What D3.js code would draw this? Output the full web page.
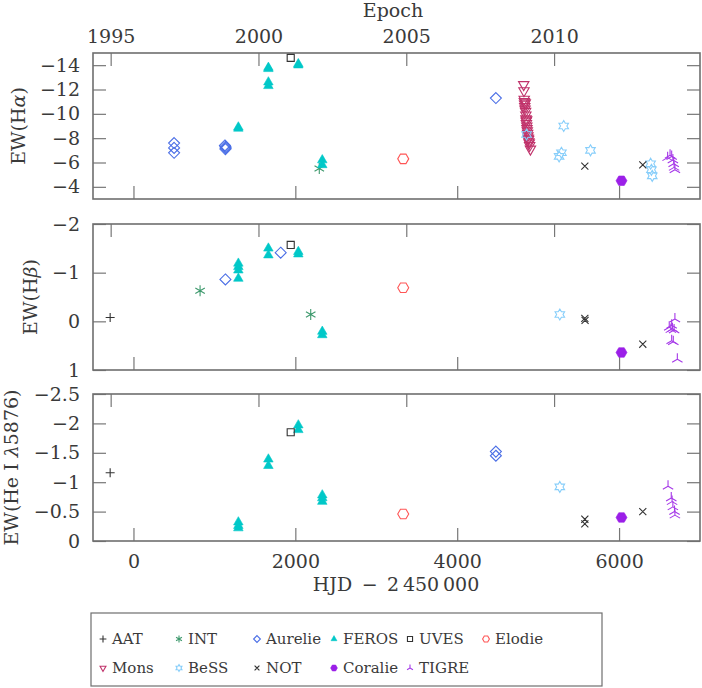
<!DOCTYPE html>
<html>
<head>
<meta charset="utf-8">
<script src="https://cdn.jsdelivr.net/npm/d3@7"></script>
<style>
  body { margin: 0; background: #fff; }
  text { font-family: "DejaVu Serif", serif; fill: #3a3a3a; }
</style>
</head>
<body>
<script>
'use strict';

// instruments, legend order
var instruments = ["AAT", "INT", "Aurelie", "FEROS", "UVES", "Elodie", "Mons", "BeSS", "NOT", "Coralie", "TIGRE"];
var colors = ["#333333", "#3f9a6e", "#4a6ee6", "#00c8c8", "#333333", "#ff5555", "#c0326a", "#87cefa", "#333333", "#9b1fe8", "#a63ae8"];
var shapes = ["plus", "aster", "diamond", "triUp", "square", "hex", "triDown", "hexagram", "cross", "hex", "tripod"];
var filled = [false, false, false, true, false, false, false, false, false, true, false];

// [HJD - 2450000, EW]  --- H alpha
var haINT = [[2296, -5.5]];
var haAurelie = [[502, -7.6], [502, -7.2], [502, -6.8], [1130, -7.4], [1136, -7.3], [1140, -7.2], [1136, -7.1], [4478, -11.3]];
var haFEROS = [[1296, -8.9], [1296, -8.8], [1667, -13.8], [1667, -13.7], [1667, -12.6], [1667, -12.3], [2037, -14.1], [2037, -14.0], [2333, -6.2], [2333, -5.8]];
var haUVES = [[1943, -14.6]];
var haElodie = [[3333, -6.3]];
var haMons = [[4822, -12.4], [4825, -11.9], [4828, -11.2], [4830, -11.0], [4833, -10.8], [4835, -10.6], [4838, -10.4], [4841, -10.9],
              [4845, -10.2], [4848, -9.9], [4850, -9.6], [4852, -9.4], [4855, -9.2], [4858, -9.5], [4860, -9.0], [4862, -8.8],
              [4866, -8.6], [4870, -8.4], [4874, -8.2], [4878, -8.0], [4882, -7.9], [4886, -7.7], [4890, -7.6], [4895, -7.4], [4905, -7.1]];
var haBeSS = [[4857, -8.3], [5259, -6.5], [5288, -6.8], [5316, -9.0], [5647, -7.0], [6390, -5.9], [6400, -5.4], [6410, -4.9]];
var haNOT = [[5577, -5.7], [6293, -5.8]];
var haCoralie = [[6030, -4.5]];
var haTIGRE = [[6600, -6.4], [6630, -6.6], [6650, -6.5], [6665, -6.2], [6675, -5.9], [6680, -5.6], [6690, -5.4]];

// H beta
var hbAAT = [[-288, -0.08]];
var hbINT = [[823, -0.63], [2190, -0.14]];
var hbAurelie = [[1136, -0.86], [1819, -1.41]];
var hbFEROS = [[1296, -1.19], [1296, -1.12], [1296, -1.05], [1296, -0.88], [1667, -1.5], [1667, -1.36], [2037, -1.43], [2037, -1.38], [2333, 0.21], [2333, 0.28]];
var hbUVES = [[1943, -1.57]];
var hbElodie = [[3333, -0.69]];
var hbBeSS = [[5268, -0.14]];
var hbNOT = [[5577, -0.06], [5580, -0.02], [6293, 0.47]];
var hbCoralie = [[6030, 0.64]];
var hbTIGRE = [[6690, -0.05], [6620, 0.12], [6650, 0.08], [6660, 0.15], [6680, 0.18], [6640, 0.17], [6650, 0.40], [6670, 0.42], [6720, 0.78]];

// He I 5876
var heAAT = [[-288, -1.16]];
var heAurelie = [[4478, -1.52], [4478, -1.45]];
var heFEROS = [[1296, -0.32], [1296, -0.26], [1296, -0.22], [1667, -1.39], [1667, -1.28], [2037, -1.97], [2037, -1.89], [2333, -0.78], [2333, -0.73], [2333, -0.67]];
var heUVES = [[1943, -1.85]];
var heElodie = [[3333, -0.46]];
var heBeSS = [[5268, -0.92]];
var heNOT = [[5577, -0.37], [5577, -0.29], [6293, -0.5]];
var heCoralie = [[6030, -0.4]];
var heTIGRE = [[6605, -0.93], [6645, -0.73], [6655, -0.67], [6665, -0.58], [6685, -0.5], [6690, -0.44]];

var width = 702,
    height = 688;

var svg = d3.select("body")
    .append("svg")
    .attr("width", width)
    .attr("height", height);

var x = d3.scaleLinear().domain([-500, 7000]).range([93, 700]);
// epoch axis: HJD 1544.5 = 2000.0
var yearOf = function(h) { return 2000 + (h - 1544.5) / 365.25; };
var xYear = d3.scaleLinear().domain([yearOf(-500), yearOf(7000)]).range([93, 700]);

var panels = [
    { top: 53, bottom: 199, domain: [-15, -3], major: d3.range(-14, -3.9, 2), minor: d3.range(-15, -2.99, 0.5),
      label: ["EW(H", "α", ")"], lx: 25, data: { INT: haINT, Aurelie: haAurelie, FEROS: haFEROS, UVES: haUVES, Elodie: haElodie,
      Mons: haMons, BeSS: haBeSS, NOT: haNOT, Coralie: haCoralie, TIGRE: haTIGRE } },
    { top: 224, bottom: 370, domain: [-2, 1], major: d3.range(-2, 1.01, 1), minor: d3.range(-2, 1.01, 0.2),
      label: ["EW(H", "β", ")"], lx: 37, data: { AAT: hbAAT, INT: hbINT, Aurelie: hbAurelie, FEROS: hbFEROS, UVES: hbUVES,
      Elodie: hbElodie, BeSS: hbBeSS, NOT: hbNOT, Coralie: hbCoralie, TIGRE: hbTIGRE } },
    { top: 394, bottom: 541, domain: [-2.5, 0], major: d3.range(-2.5, 0.01, 0.5), minor: d3.range(-2.5, 0.01, 0.1),
      label: ["EW(He I ", "λ", "5876)"], lx: 18, data: { AAT: heAAT, Aurelie: heAurelie, FEROS: heFEROS, UVES: heUVES,
      Elodie: heElodie, BeSS: heBeSS, NOT: heNOT, Coralie: heCoralie, TIGRE: heTIGRE } }
];

function shapePath(type, r) {
    var pt = function(a, rr) { return [rr * Math.sin(a), -rr * Math.cos(a)]; };
    var poly = function(n, rot) {
        return "M" + d3.range(n).map(function(k) { return pt(rot + k * 2 * Math.PI / n, r).join(","); }).join("L") + "Z";
    };
    var spokes = function(n, rot) {
        return d3.range(n).map(function(k) { return "M0,0L" + pt(rot + k * 2 * Math.PI / n, r).join(","); }).join("");
    };
    switch (type) {
        case "plus": return spokes(4, 0);
        case "cross": return spokes(4, Math.PI / 4);
        case "aster": return spokes(6, 0);
        case "tripod": return spokes(3, 0);
        case "diamond": return poly(4, 0);
        case "square": return poly(4, Math.PI / 4);
        case "triUp": return poly(3, 0);
        case "triDown": return poly(3, Math.PI);
        case "hex": return poly(6, Math.PI / 2);
        case "hexagram":
            return "M" + d3.range(12).map(function(k) {
                return pt(k * Math.PI / 6, k % 2 ? r / Math.sqrt(3) : r).join(",");
            }).join("L") + "Z";
    }
}

var sizes = { plus: 4.5, cross: 5, aster: 5.5, tripod: 6, diamond: 5.5, square: 5, triUp: 5.5, triDown: 6, hex: 5.5, hexagram: 5.5 };

function styleMark(sel, i) {
    sel.attr("fill", filled[i] ? colors[i] : "none")
       .attr("stroke", colors[i])
       .attr("stroke-width", filled[i] ? 0.6 : 1.1);
}

panels.forEach(function(p, pi) {
    var y = d3.scaleLinear().domain(p.domain).range([p.top, p.bottom]);
    var g = svg.append("g");
    var h = p.bottom - p.top;

    // bottom HJD ticks
    var bot = g.append("g").attr("transform", "translate(0," + p.bottom + ")");
    bot.call(d3.axisBottom(x).tickValues(d3.range(0, 7001, 500)).tickSize(-7).tickFormat(""));
    bot.call(d3.axisBottom(x).tickValues([0, 2000, 4000, 6000]).tickSize(-13).tickPadding(14)
        .tickFormat(pi === 2 ? d3.format("d") : ""));
    // top epoch ticks
    var top = g.append("g").attr("transform", "translate(0," + p.top + ")");
    top.call(d3.axisTop(xYear).tickValues(d3.range(1995, 2015)).tickSize(-7).tickFormat(""));
    top.call(d3.axisTop(xYear).tickValues([1995, 2000, 2005, 2010]).tickSize(-13).tickPadding(10)
        .tickFormat(pi === 0 ? d3.format("d") : ""));
    // left / right
    var left = g.append("g").attr("transform", "translate(93,0)");
    left.call(d3.axisLeft(y).tickValues(p.minor).tickSize(-7).tickFormat(""));
    left.call(d3.axisLeft(y).tickValues(p.major).tickSize(-13).tickPadding(13).tickFormat(d3.format("~g")));
    var right = g.append("g").attr("transform", "translate(700,0)");
    right.call(d3.axisRight(y).tickValues(p.minor).tickSize(-7).tickFormat(""));
    right.call(d3.axisRight(y).tickValues(p.major).tickSize(-13).tickFormat(""));

    g.selectAll(".domain").remove();
    g.selectAll(".tick line").attr("stroke", "#777").attr("stroke-width", 1.2);
    g.selectAll(".tick text").attr("fill", "#3a3a3a").style("font-size", "19px").style("font-family", "'DejaVu Serif', serif");

    g.append("rect")
        .attr("x", 93).attr("y", p.top)
        .attr("width", 607).attr("height", h)
        .attr("fill", "none").attr("stroke", "#6e6e6e").attr("stroke-width", 1.6);

    // y label
    var lab = g.append("text")
        .attr("transform", "translate(" + p.lx + "," + (p.top + h / 2) + ") rotate(-90)")
        .attr("text-anchor", "middle")
        .style("font-size", "19px");
    lab.append("tspan").text(p.label[0]);
    lab.append("tspan").style("font-style", "italic").text(p.label[1]);
    lab.append("tspan").text(p.label[2]);

    // points
    var pts = g.append("g");
    instruments.forEach(function(name, i) {
        var d = p.data[name];
        if (!d) return;
        var path = shapePath(shapes[i], sizes[shapes[i]]);
        pts.selectAll(null)
            .data(d)
            .enter()
            .append("path")
            .attr("d", path)
            .attr("transform", function(v) { return "translate(" + x(v[0]) + "," + y(v[1]) + ")"; })
            .call(styleMark, i);
    });
});

// axis titles
svg.append("text").attr("x", 393).attr("y", 17).attr("text-anchor", "middle")
    .style("font-size", "19px").text("Epoch");
svg.append("text").attr("x", 396).attr("y", 591).attr("text-anchor", "middle")
    .style("font-size", "19px").text("HJD\u2002\u2212\u20022\u2009450\u2009000");

// legend
var legend = svg.append("g");
legend.append("rect")
    .attr("x", 91).attr("y", 613).attr("width", 511).attr("height", 73)
    .attr("fill", "none").attr("stroke", "#6e6e6e").attr("stroke-width", 1.2);

var legendCols = [103, 179, 257, 334, 410, 486];
instruments.forEach(function(name, i) {
    var col = i < 6 ? i : i - 6;
    var row = i < 6 ? 0 : 1;
    var cx = legendCols[col], cy = 639 + row * 29;
    legend.append("path")
        .attr("d", shapePath(shapes[i], shapes[i] === "square" ? 3.6 : 3.4))
        .attr("transform", "translate(" + cx + "," + cy + ")")
        .call(styleMark, i);
    legend.append("text")
        .attr("x", cx + 9).attr("y", cy + 5)
        .style("font-size", "15px")
        .text(name);
});
</script>
</body>
</html>
